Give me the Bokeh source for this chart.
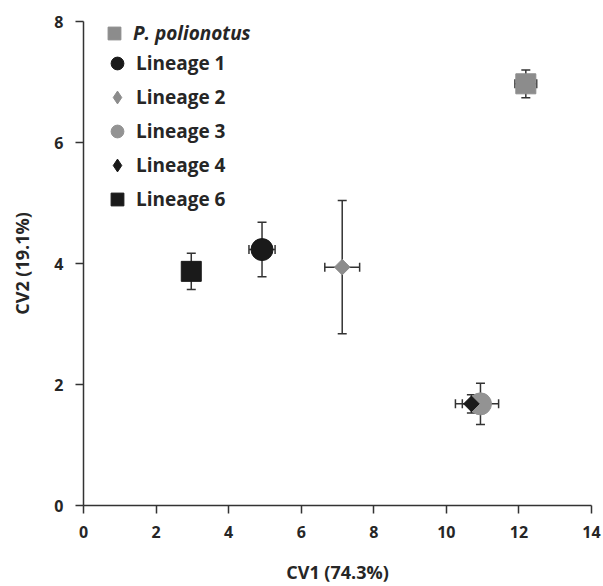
import math
from bokeh.plotting import figure
from bokeh.models import (ColumnDataSource, Whisker, TeeHead, Legend, LegendItem,
                          Range1d, FixedTicker)
from bokeh.embed import file_html
from bokeh.resources import INLINE

# ---- data ----
groups = ["P. polionotus", "Lineage 1", "Lineage 2", "Lineage 3", "Lineage 4", "Lineage 6"]
cv1 = [12.19, 4.92, 7.13, 10.94, 10.69, 2.97]
cv2 = [6.97, 4.23, 3.94, 1.68, 1.68, 3.87]
cv1_err = [0.30, 0.36, 0.48, 0.50, 0.44, 0.10]
cv2_err = [0.23, 0.45, 1.10, 0.34, 0.15, 0.30]
markers = ["square", "circle", "square", "circle", "square", "square"]
legend_markers = ["square", "circle", "diamond", "circle", "diamond", "square"]
angles = [0.0, 0.0, math.pi / 4, 0.0, math.pi / 4, 0.0]
sizes = [20, 22, 11, 22, 11, 20]
colors = ["#8c8c8c", "#1a1a1a", "#8c8c8c", "#939393", "#1a1a1a", "#1a1a1a"]
x_ticks = [0, 2, 4, 6, 8, 10, 12, 14]
y_ticks = [0, 2, 4, 6, 8]

FONT = "Open Sans"
TXT = "#262626"
AX = "#333333"

p = figure(width=603, height=586, output_backend="svg", toolbar_location=None,
           x_range=Range1d(0, 14), y_range=Range1d(0, 8),
           min_border_left=83, min_border_right=12, min_border_top=21, min_border_bottom=81)
p.outline_line_color = None
p.xgrid.visible = False
p.ygrid.visible = False

for ax in (p.xaxis[0], p.yaxis[0]):
    ax.axis_line_color = AX
    ax.axis_line_width = 1.5
    ax.major_tick_line_color = AX
    ax.major_tick_line_width = 1.5
    ax.major_tick_out = 8
    ax.major_tick_in = 0
    ax.minor_tick_line_color = None
    ax.major_label_text_font = FONT
    ax.major_label_text_font_style = "bold"
    ax.major_label_text_font_size = "16px"
    ax.major_label_text_color = TXT
    ax.major_label_standoff = 12
    ax.axis_label_text_font = FONT
    ax.axis_label_text_font_style = "bold"
    ax.axis_label_text_font_size = "18px"
    ax.axis_label_text_color = TXT

p.xaxis.ticker = FixedTicker(ticks=x_ticks)
p.yaxis.ticker = FixedTicker(ticks=y_ticks)
p.xaxis.axis_label = "CV1 (74.3%)"
p.yaxis.axis_label = "CV2 (19.1%)"
p.xaxis.axis_label_standoff = 19
p.yaxis.axis_label_standoff = 17

src = ColumnDataSource(dict(
    x=cv1, y=cv2,
    xl=[a - b for a, b in zip(cv1, cv1_err)], xu=[a + b for a, b in zip(cv1, cv1_err)],
    yl=[a - b for a, b in zip(cv2, cv2_err)], yu=[a + b for a, b in zip(cv2, cv2_err)],
))

def tee():
    return TeeHead(size=9, line_color=AX, line_width=1.5)

p.add_layout(Whisker(base="x", lower="yl", upper="yu", dimension="height", source=src,
                     line_color=AX, line_width=1.5, lower_head=tee(), upper_head=tee()))
p.add_layout(Whisker(base="y", lower="xl", upper="xu", dimension="width", source=src,
                     line_color=AX, line_width=1.5, lower_head=tee(), upper_head=tee()))

legend_r = {}
for i, g in enumerate(groups):
    s = ColumnDataSource(dict(x=[cv1[i]], y=[cv2[i]]))
    if legend_markers[i] != markers[i]:
        # legend swatch (narrow diamond) drawn small, hidden under the real marker
        legend_r[g] = p.scatter("x", "y", source=s, marker=legend_markers[i], size=8,
                                fill_color=colors[i], line_color=colors[i])
        p.scatter("x", "y", source=s, marker=markers[i], size=sizes[i], angle=angles[i],
                  fill_color=colors[i], line_color=colors[i])
    else:
        legend_r[g] = p.scatter("x", "y", source=s, marker=markers[i], size=sizes[i],
                                angle=angles[i], fill_color=colors[i], line_color=colors[i])

common = dict(border_line_color=None, background_fill_alpha=0, margin=0,
              glyph_width=32, glyph_height=32, label_height=32, spacing=2,
              label_standoff=3, label_text_font=FONT, label_text_font_size="19px",
              label_text_color=TXT)

leg1 = Legend(items=[LegendItem(label=groups[0], renderers=[legend_r[groups[0]]])],
              location=(15, 456), padding=3, label_text_font_style="bold italic", **common)
order = ["Lineage 1", "Lineage 2", "Lineage 3", "Lineage 4", "Lineage 6"]
leg2 = Legend(items=[LegendItem(label=g, renderers=[legend_r[g]]) for g in order],
              location=(18, 290), padding=0, label_text_font_style="bold", **common)
p.add_layout(leg1)
p.add_layout(leg2)

open("out.html", "w").write(file_html(p, INLINE))
